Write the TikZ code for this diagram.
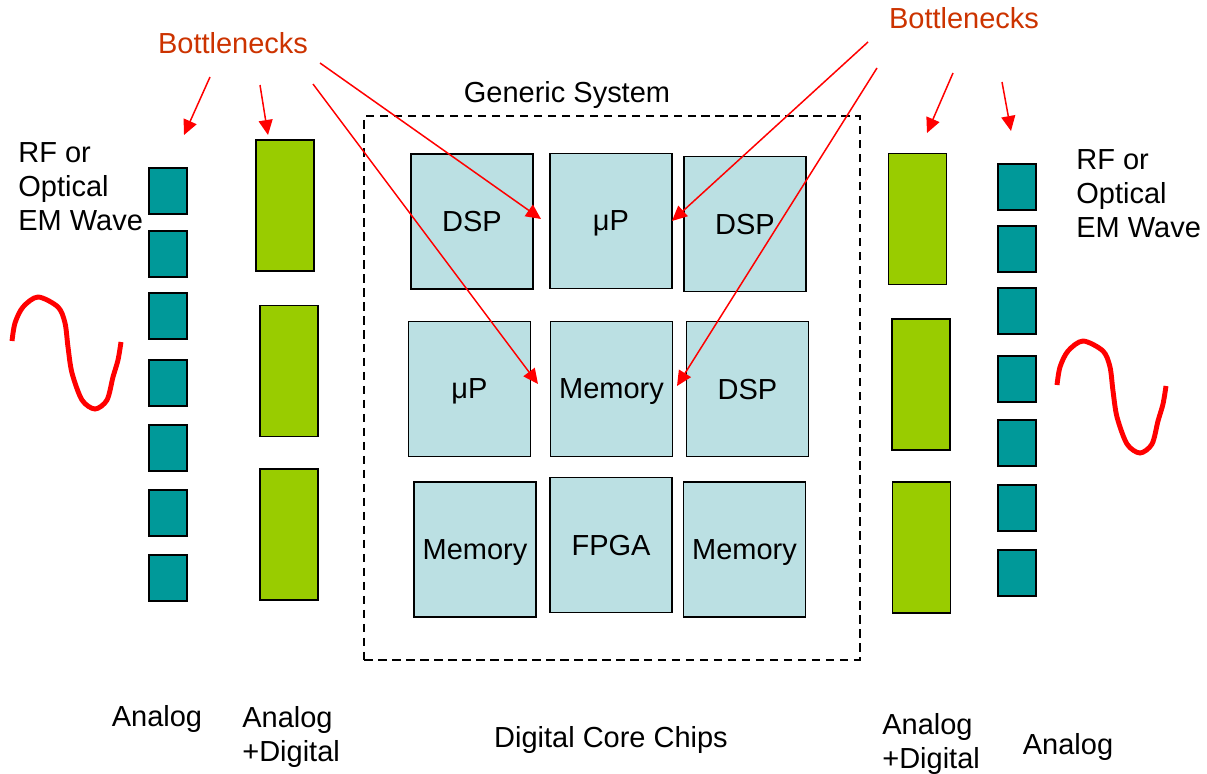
\documentclass[tikz,border=0pt]{standalone}
\usepackage{fontspec}
\setmainfont{Liberation Sans}
\usepackage{xcolor}
\usepackage{tikz}
\usetikzlibrary{arrows.meta}
\definecolor{padteal}{HTML}{009999}
\definecolor{bargreen}{HTML}{99CC00}
\definecolor{chipblue}{HTML}{BBE0E3}
\definecolor{noteorange}{HTML}{CC3300}
\tikzset{
  pad/.style={
    rectangle, draw, line width=1.1pt, fill=padteal,
    minimum width=0.76cm, minimum height=0.92cm
  },
  conv/.style={
    rectangle, draw, line width=1.1pt, fill=bargreen,
    minimum width=1.16cm, minimum height=2.62cm
  },
  chip/.style={
    rectangle, draw, line width=1pt, fill=chipblue,
    minimum width=2.44cm, minimum height=2.7cm, text depth=0pt,
    font=\fontsize{16.5}{19.4}\selectfont
  },
  txt/.style={inner sep=0pt, align=left, font=\fontsize{16.5}{19.4}\selectfont},
  note/.style={txt, text=noteorange},
  sysframe/.style={draw, line width=0.85pt, dash pattern=on 0.17cm off 0.11cm},
  bneck/.style={draw=red, line width=0.85pt, -{Triangle[length=3mm, width=2.8mm]}},
  wave/.pic={
    \draw[red, line width=2.8pt] plot[smooth] coordinates {
      (0,0) (3,-18) (11,-34) (26,-44) (46,-34) (53,-18) (56,6) (60,32)
      (70,59) (83,68) (95,59) (101,36) (106,19) (109,1)};
  },
}

\begin{document}
\begin{tikzpicture}[x=0.02cm, y=-0.02cm]
  \useasboundingbox (0,0) rectangle (1207,774);

  % Generic system frame
  \node[sysframe, minimum width=9.92cm, minimum height=10.88cm] (frame) at (612,388) {};
  \node[txt] (gen) at (567,95) {Generic System};

  % Core chips
  \node[chip] (dspA) at (472,221.5) {DSP};
  \node[chip] (upA) at (611,221) {μP};
  \node[chip] (dspB) at (745,224) {DSP};
  \node[chip] (upB) at (469.5,389) {μP};
  \node[chip] (memA) at (611.5,389) {Memory};
  \node[chip] (dspC) at (747.5,389) {DSP};
  \node[chip] (memB) at (475,549.5) {Memory};
  \node[chip] (fpga) at (611,545) {FPGA};
  \node[chip] (memC) at (744.5,549.5) {Memory};

  % Analog + digital converters
  \node[conv] (convL1) at (285,205.5) {};
  \node[conv] (convL2) at (289,371) {};
  \node[conv] (convL3) at (289,534.5) {};
  \node[conv] (convR1) at (917.5,219) {};
  \node[conv] (convR2) at (921,384.5) {};
  \node[conv] (convR3) at (921.5,547.5) {};

  % Analog pads
  \foreach \y [count=\i] in {191,254,316,383,448,513,578}
    \node[pad] (padL\i) at (168,\y) {};
  \foreach \y [count=\i] in {187,249,311,379,443,508,573}
    \node[pad] (padR\i) at (1017,\y) {};

  % EM waves
  \pic at (12,341) {wave};
  \pic at (1057,385) {wave};
  \node[txt, anchor=west] (rfL) at (18,187) {RF or\\Optical\\EM Wave};
  \node[txt, anchor=west] (rfR) at (1076,194) {RF or\\Optical\\EM Wave};

  % Bottom labels
  \node[txt] (anaL) at (157,719) {Analog};
  \node[txt, anchor=west] (mixL) at (242,737) {Analog\\+Digital};
  \node[txt] (core) at (611,740) {Digital Core Chips};
  \node[txt, anchor=west] (mixR) at (882,744) {Analog\\+Digital};
  \node[txt] (anaR) at (1068,747) {Analog};

  % Bottlenecks
  \node[note] (bnL) at (233,43) {Bottlenecks};
  \node[note] (bnR) at (964,18) {Bottlenecks};

  \coordinate (sL1) at (210,77);  \coordinate (eL1) at (184,135);
  \coordinate (sL2) at (260,85);  \coordinate (eL2) at (268,135);
  \coordinate (sL3) at (320,63);  \coordinate (eL3) at (541,219);
  \coordinate (sL4) at (313,84);  \coordinate (eL4) at (538,384);
  \coordinate (sR1) at (868,42);  \coordinate (eR1) at (672,221);
  \coordinate (sR2) at (877,68);  \coordinate (eR2) at (677,386);
  \coordinate (sR3) at (953,73);  \coordinate (eR3) at (927,133);
  \coordinate (sR4) at (1002,82); \coordinate (eR4) at (1011,131);

  % Arrows
  \draw[bneck] (sL1) -- (eL1);
  \draw[bneck] (sL2) -- (eL2);
  \draw[bneck] (sL3) -- (eL3);
  \draw[bneck] (sL4) -- (eL4);
  \draw[bneck] (sR1) -- (eR1);
  \draw[bneck] (sR2) -- (eR2);
  \draw[bneck] (sR3) -- (eR3);
  \draw[bneck] (sR4) -- (eR4);
\end{tikzpicture}
\end{document}
